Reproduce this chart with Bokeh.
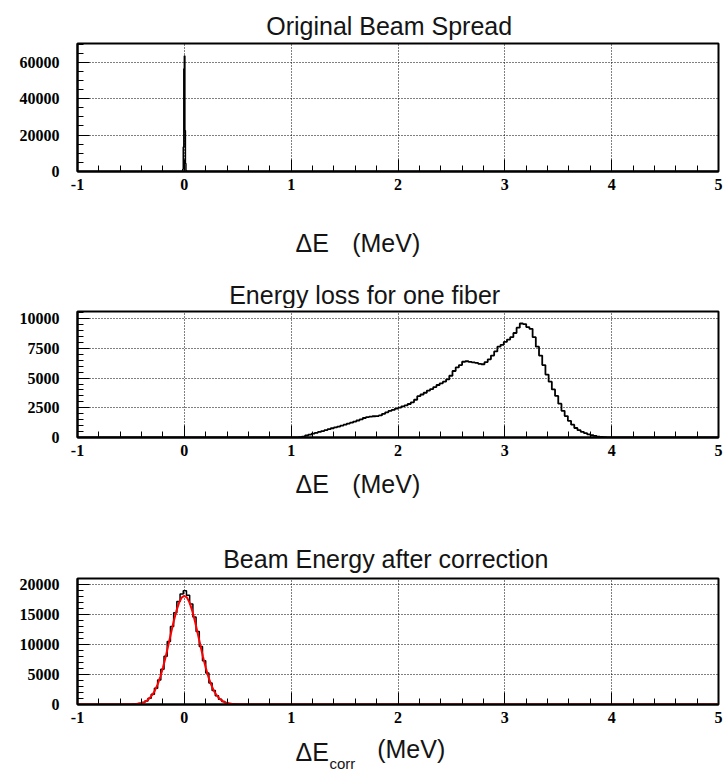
from bokeh.plotting import figure
from bokeh.layouts import column
from bokeh.models import Range1d, SingleIntervalTicker, Label, PrintfTickFormatter
from bokeh.embed import file_html
from bokeh.resources import INLINE

# ---------------- data ----------------
X_RANGE = (-1.0, 5.0)

# Panel 1: original beam spread (narrow spike)
beam_first_edge = -0.015
beam_bin_width = 0.005
beam_counts = [1200, 13400, 56400, 63500, 22500, 4400, 600]

# Panel 2: energy loss for one fiber
loss_first_edge = 1.07
loss_bin_width = 0.03
loss_counts = [
    30, 80, 170, 250, 320, 390, 470, 540, 620, 700,
    780, 850, 920, 1000, 1080, 1170, 1250, 1340, 1430, 1520,
    1640, 1720, 1760, 1790, 1800, 1860, 1990, 2120, 2240, 2320,
    2430, 2510, 2620, 2700, 2820, 2960, 3180, 3480, 3620, 3770,
    3950, 4080, 4250, 4420, 4560, 4700, 4890, 5200, 5600, 5900,
    6100, 6380, 6420, 6360, 6320, 6290, 6200, 6170, 6350, 6580,
    6900, 7250, 7650, 7800, 8050, 8250, 8450, 8800, 9250, 9600,
    9550, 9300, 9150, 8450, 7650, 6900, 6100, 5300, 4700, 4050,
    3500, 2850, 2250, 1800, 1400, 1080, 800, 620, 480, 370,
    270, 190, 130, 80, 45, 20, 8,
]

# Panel 3: beam energy after correction
corr_first_edge = -0.55
corr_bin_width = 0.03
corr_counts = [
    7, 17, 38, 82, 165, 319, 587, 1025, 1710, 2710,
    4090, 5870, 8030, 10450, 12940, 15260, 17120, 18350, 18900, 18150,
    16700, 14520, 12120, 9620, 7270, 5230, 3580, 2340, 1450, 856,
    481, 257, 131, 63, 30, 13, 5,
]

# Gaussian fit curve
fit_x = [-1.0, -0.6, -0.5, -0.45, -0.4, -0.375, -0.35, -0.325, -0.3, -0.275,
         -0.25, -0.225, -0.2, -0.175, -0.15, -0.125, -0.1, -0.075, -0.05, -0.025,
         0.0, 0.025, 0.05, 0.075, 0.1, 0.125, 0.15, 0.175, 0.2, 0.225,
         0.25, 0.275, 0.3, 0.325, 0.35, 0.375, 0.4, 0.45, 0.5, 0.6, 5.0]
fit_y = [0, 1, 21, 76, 239, 404, 659, 1040, 1590, 2340,
         3340, 4600, 6130, 7890, 9830, 11840, 13780, 15510, 16880, 17760,
         18060, 17760, 16880, 15510, 13780, 11840, 9830, 7890, 6130, 4600,
         3340, 2340, 1590, 1040, 659, 404, 239, 76, 21, 1, 0]

titles = ["Original Beam Spread", "Energy loss for one fiber", "Beam Energy after correction"]
x_label_main = "ΔE"
x_label_sub = "corr"
x_label_unit = "(MeV)"
y_max = [70300, 10610, 20930]
y_tick_interval = [20000, 2500, 5000]
y_minor = [4, 5, 5]

TEXT_FONT = "Liberation Sans"
TICK_FONT = "Liberation Serif"
TEXT_COLOR = "#141414"
W = 723
LEFT, RIGHT = 77, 5


def step_xy(first_edge, width, counts):
    edges = [first_edge + k * width for k in range(len(counts) + 1)]
    xs = [X_RANGE[0]] + edges + [X_RANGE[1]]
    ys = [0] + list(counts) + [0, 0]
    return xs, ys


def make_panel(height, top, bottom, ymax, yint, yminor):
    p = figure(width=W, height=height, output_backend="svg", toolbar_location=None,
               x_range=Range1d(*X_RANGE), y_range=Range1d(0, ymax),
               min_border_left=LEFT, min_border_right=RIGHT,
               min_border_top=top, min_border_bottom=bottom)
    p.outline_line_color = "black"
    p.outline_line_width = 2
    p.background_fill_color = "white"
    p.border_fill_color = "white"

    p.xaxis.ticker = SingleIntervalTicker(interval=1, num_minor_ticks=5)
    p.xaxis.formatter = PrintfTickFormatter(format="%d")
    p.yaxis.ticker = SingleIntervalTicker(interval=yint, num_minor_ticks=yminor)
    for ax in (p.xaxis, p.yaxis):
        ax.major_tick_in = 12
        ax.major_tick_out = 0
        ax.minor_tick_in = 6
        ax.minor_tick_out = 0
        ax.major_tick_line_color = "black"
        ax.minor_tick_line_color = "black"
        ax.axis_line_color = "black"
        ax.axis_line_width = 2
        ax.major_label_text_font = TICK_FONT
        ax.major_label_text_font_style = "bold"
        ax.major_label_text_font_size = "16px"
        ax.major_label_text_color = "black"
    p.xaxis.major_label_standoff = 7
    p.yaxis.major_label_standoff = 18

    for g in (p.xgrid, p.ygrid):
        g.grid_line_color = "black"
        g.grid_line_dash = "1 2"
        g.grid_line_width = 1
        g.grid_line_alpha = 1.0
    return p


def make_strip(height):
    # text strip whose data coordinates equal window pixels horizontally
    s = figure(width=W, height=height, output_backend="svg", toolbar_location=None,
               x_range=Range1d(LEFT, W - RIGHT), y_range=Range1d(0, height),
               x_axis_location=None, y_axis_location=None, title=None,
               min_border_left=LEFT, min_border_right=RIGHT,
               min_border_top=0, min_border_bottom=0)
    s.grid.visible = False
    s.outline_line_color = None
    s.background_fill_color = "white"
    s.border_fill_color = "white"
    return s


def add_text(s, text, x, y, size="25px"):
    s.add_layout(Label(x=x, y=y, text=text, text_font=TEXT_FONT, text_font_size=size,
                       text_color=TEXT_COLOR, text_baseline="alphabetic", text_align="left"))


# strip above panel 1 (window y 0..40)
s0 = make_strip(40)
add_text(s0, titles[0], 265.7, 14.5)

# panel 1 (window y 40..200, frame 43..171)
p1 = make_panel(160, 3, 29, y_max[0], y_tick_interval[0], y_minor[0])
xs, ys = step_xy(beam_first_edge, beam_bin_width, beam_counts)
p1.step(xs, ys, mode="after", line_color="black", line_width=1.5)

# strip between panel 1 and 2 (window y 200..308)
s1 = make_strip(108)
add_text(s1, x_label_main, 295, 65.5)
add_text(s1, x_label_unit, 351.7, 65.5)
add_text(s1, titles[1], 228.7, 13.8)

# panel 2 (window y 308..466, frame 311..437)
p2 = make_panel(158, 3, 29, y_max[1], y_tick_interval[1], y_minor[1])
xs, ys = step_xy(loss_first_edge, loss_bin_width, loss_counts)
p2.step(xs, ys, mode="after", line_color="black", line_width=1.8)

# strip between panel 2 and 3 (window y 466..574)
s2 = make_strip(108)
add_text(s2, x_label_main, 295, 90.8)
add_text(s2, x_label_unit, 351.7, 90.8)
add_text(s2, titles[2], 222.7, 15.8)

# panel 3 (window y 574..733, frame 578..704)
p3 = make_panel(159, 4, 29, y_max[2], y_tick_interval[2], y_minor[2])
xs, ys = step_xy(corr_first_edge, corr_bin_width, corr_counts)
p3.step(xs, ys, mode="after", line_color="black", line_width=1.5)
p3.line(fit_x, fit_y, line_color="#ff0000", line_width=2)

# strip below panel 3 (window y 733..772)
s3 = make_strip(39)
add_text(s3, x_label_main, 295, 20.5)
add_text(s3, x_label_sub, 329, 9, size="15px")
add_text(s3, x_label_unit, 376.7, 23.5)

layout = column(s0, p1, s1, p2, s2, p3, s3, spacing=0)

with open("out.html", "w") as f:
    f.write(file_html(layout, INLINE))
